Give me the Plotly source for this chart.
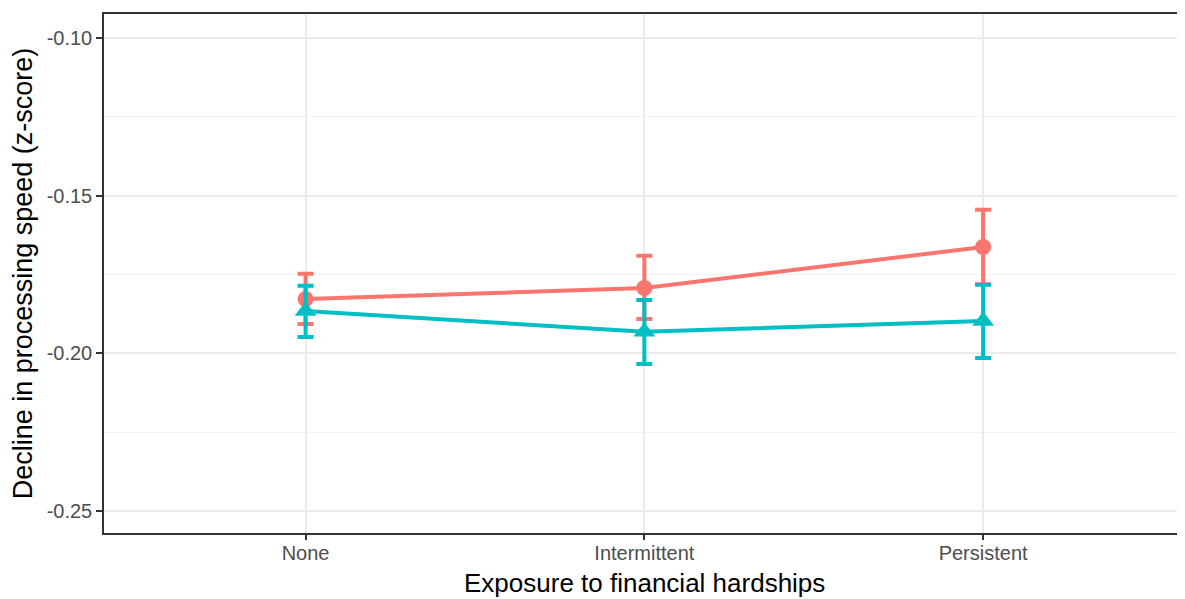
import plotly.graph_objects as go

categories = ["None", "Intermittent", "Persistent"]

red_mean = [-0.1828, -0.1793, -0.1663]
red_upper = [-0.1748, -0.1691, -0.1545]
red_lower = [-0.1907, -0.1891, -0.1781]

teal_mean = [-0.1866, -0.1932, -0.1898]
teal_upper = [-0.1786, -0.1831, -0.1783]
teal_lower = [-0.1948, -0.2034, -0.2015]

y_tickvals = [-0.25, -0.20, -0.15, -0.10]
y_ticktext = ["-0.25", "-0.20", "-0.15", "-0.10"]

RED = "#F8766D"
TEAL = "#00BFC4"

x_idx = list(range(len(categories)))


def trace(mean, upper, lower, color, symbol, size, name):
    return go.Scatter(
        x=x_idx, y=mean, name=name, mode="lines+markers",
        line=dict(color=color, width=4),
        marker=dict(color=color, symbol=symbol, size=size, line=dict(width=0)),
        error_y=dict(type="data", symmetric=False,
                     array=[u - m for u, m in zip(upper, mean)],
                     arrayminus=[m - l for m, l in zip(mean, lower)],
                     color=color, thickness=4, width=8),
        showlegend=False,
    )


fig = go.Figure()
fig.add_trace(trace(red_mean, red_upper, red_lower, RED, "circle", 16, "A"))
fig.add_trace(trace(teal_mean, teal_upper, teal_lower, TEAL, "triangle-up", 19, "B"))

fig.update_layout(
    width=1177, height=591,
    margin=dict(l=96, r=0, t=6, b=66),
    paper_bgcolor="white", plot_bgcolor="white",
    font=dict(family="Liberation Sans, Arial, sans-serif", color="#4D4D4D"),
    xaxis=dict(
        range=[-0.595, 2.59], tickvals=x_idx, ticktext=categories,
        showgrid=True, gridcolor="#EBEBEB", gridwidth=2,
        zeroline=False, showline=True, mirror=True, linecolor="#333333", linewidth=1.5,
        ticks="outside", ticklen=5, tickcolor="#333333", tickwidth=1.5,
        ticklabelstandoff=-4,
        tickfont=dict(size=20, color="#4D4D4D"),
    ),
    yaxis=dict(
        range=[-0.257, -0.0924], tickvals=y_tickvals, ticktext=y_ticktext,
        showgrid=True, gridcolor="#EBEBEB", gridwidth=2,
        minor=dict(tickvals=[-0.225, -0.175, -0.125], showgrid=True,
                   gridcolor="#F2F2F2", gridwidth=1.2, ticks=""),
        zeroline=False, showline=True, mirror=True, linecolor="#333333", linewidth=1.5,
        ticks="outside", ticklen=6, tickcolor="#333333", tickwidth=1.5,
        tickfont=dict(size=20, color="#4D4D4D"),
        title=dict(text="Decline in processing speed (z-score)", standoff=7,
                   font=dict(size=27, color="black")),
    ),
    annotations=[dict(
        text="Exposure to financial hardships", xref="x", yref="paper",
        x=1, y=0, yshift=-50, xanchor="center", yanchor="middle",
        showarrow=False, font=dict(size=26, color="black"),
    )],
)

fig.write_html("out.html")
